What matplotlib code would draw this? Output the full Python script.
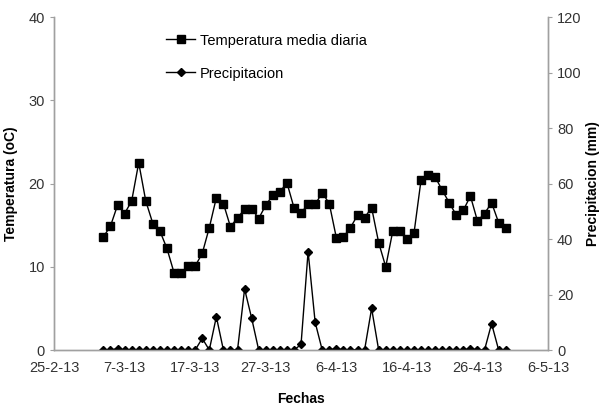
import pandas as pd
import numpy as np
import matplotlib.pyplot as plt
import matplotlib.dates as mdates
from matplotlib.ticker import FuncFormatter

plt.rcParams['font.family'] = ['Liberation Sans', 'DejaVu Sans']

# datos diarios del 4-3-13 al 30-4-13
fechas = pd.date_range('2013-03-04', '2013-04-30', freq='D')

temperatura = [13.6, 14.9, 17.4, 16.4, 17.9, 22.5, 17.9, 15.2, 14.3, 12.2,
               9.3, 9.3, 10.1, 10.1, 11.6, 14.7, 18.3, 17.6, 14.8, 15.9,
               16.9, 17.0, 15.8, 17.4, 18.6, 19.0, 20.1, 17.1, 16.5, 17.5,
               17.5, 18.9, 17.6, 13.5, 13.6, 14.7, 16.2, 15.9, 17.1, 12.9,
               10.0, 14.3, 14.3, 13.3, 14.0, 20.4, 21.0, 20.8, 19.2, 17.7,
               16.2, 16.8, 18.5, 15.5, 16.4, 17.7, 15.3, 14.7]

precipitacion = [0, 0, 0.5, 0, 0, 0, 0, 0, 0, 0,
                 0, 0, 0, 0, 4.2, 0, 12.0, 0, 0, 0,
                 22.0, 11.5, 0, 0, 0, 0, 0, 0, 2.0, 35.5,
                 10.0, 0, 0, 0.5, 0, 0, 0, 0, 15.0, 0,
                 0, 0, 0, 0, 0, 0, 0, 0, 0, 0,
                 0, 0, 0.5, 0, 0, 9.5, 0, 0]

gris = '#a0a0a0'

fig = plt.figure(figsize=(6.01, 4.07), dpi=100)
ax = fig.add_axes([0.0899, 0.140, 0.822, 0.818])
ax2 = ax.twinx()

l1, = ax.plot(fechas, temperatura, color='black', lw=1.0, marker='s',
              markersize=6, label='Temperatura media diaria')
l2, = ax2.plot(fechas, precipitacion, color='black', lw=1.0, marker='D',
               markersize=4, label='Precipitacion')

ax.set_ylim(0, 40)
ax.set_yticks([0, 10, 20, 30, 40])
ax2.set_ylim(0, 120)
ax2.set_yticks([0, 20, 40, 60, 80, 100, 120])

ax.set_xlim(pd.Timestamp('2013-02-25'), pd.Timestamp('2013-05-06'))
ax.set_xticks(pd.date_range('2013-02-25', '2013-05-06', freq='10D'))
ax.xaxis.set_major_formatter(FuncFormatter(
    lambda v, pos: '{}-{}-{}'.format(mdates.num2date(v).day,
                                     mdates.num2date(v).month,
                                     mdates.num2date(v).strftime('%y'))))

for a in (ax, ax2):
    a.spines['top'].set_visible(False)
    for s in ('left', 'right', 'bottom'):
        a.spines[s].set_color(gris)
        a.spines[s].set_linewidth(1.0)
    a.tick_params(colors=gris, labelcolor='#333333', labelsize=10.5, length=3)
ax.tick_params(axis='x', length=0, pad=8)

ax.set_ylabel('Temperatura (oC)', fontsize=10, fontweight='bold', labelpad=8)
ax2.set_ylabel('Precipitacion (mm)', fontsize=10, fontweight='bold', labelpad=3)
ax.set_xlabel('Fechas', fontsize=10, fontweight='bold', labelpad=12)

ax.legend([l1, l2], [l1.get_label(), l2.get_label()], loc='upper left',
          bbox_to_anchor=(0.2, 0.99), frameon=False, fontsize=10.5,
          labelspacing=1.3, handlelength=2.0, handletextpad=0.3)

fig.savefig('out.png', dpi=100)
